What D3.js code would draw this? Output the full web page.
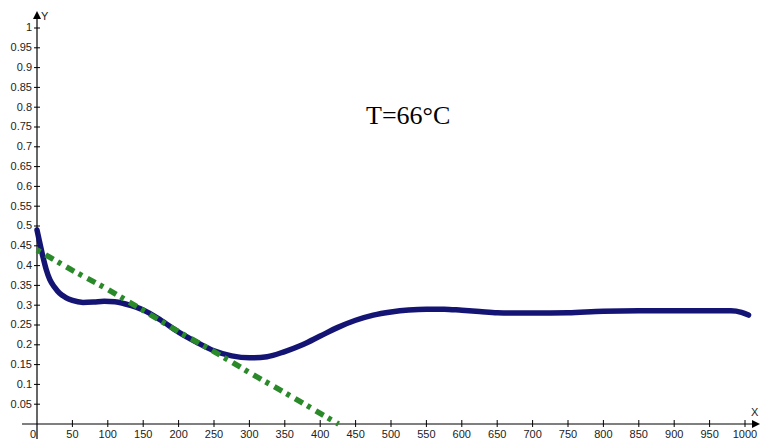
<!DOCTYPE html>
<html>
<head>
    <meta charset="utf-8">
    <title>T=66°C</title>
    <script src="https://d3js.org/d3.v7.min.js"></script>
    <style>
        body { margin: 0; background: #fff; }
        svg { display: block; }
        .tick-label { font-family: "Liberation Sans", Arial, sans-serif; font-size: 11px; fill: #222; }
        .note { font-family: "Liberation Serif", "Times New Roman", serif; font-size: 26px; fill: #000; }
    </style>
</head>
<body>
    <svg width="760" height="439"></svg>
    <script>
        // 蓝色曲线 (x, y)
        const blueX = [0, 3, 8, 13, 18, 25, 32, 40, 50, 65, 80, 95, 110, 125, 140, 150, 175, 200, 225, 250,
            275, 300, 325, 350, 375, 400, 425, 450, 475, 500, 525, 550, 575, 600, 625, 650, 700, 750,
            800, 850, 900, 950, 980, 995, 1005];
        const blueY = [0.49, 0.465, 0.425, 0.39, 0.365, 0.345, 0.33, 0.32, 0.312, 0.307, 0.308, 0.31, 0.309,
            0.303, 0.295, 0.288, 0.262, 0.232, 0.207, 0.185, 0.172, 0.167, 0.17, 0.183, 0.2, 0.222,
            0.244, 0.262, 0.275, 0.283, 0.288, 0.29, 0.29, 0.287, 0.284, 0.281, 0.28, 0.281, 0.285,
            0.286, 0.286, 0.286, 0.286, 0.282, 0.275];

        // 绿色虚线 (x, y)
        const greenX = [0, 50, 100, 150, 200, 250, 300, 350, 400, 426];
        const greenY = [0.44, 0.388, 0.34, 0.287, 0.233, 0.183, 0.13, 0.079, 0.027, 0];

        // 刻度
        const xTicks = d3.range(0, 1001, 50);
        const yTicks = [0.05, 0.1, 0.15, 0.2, 0.25, 0.3, 0.35, 0.4, 0.45, 0.5,
            0.55, 0.6, 0.65, 0.7, 0.75, 0.8, 0.85, 0.9, 0.95, 1];

        const svg = d3.select("svg");
        const x = d3.scaleLinear().domain([0, 1000]).range([37, 745]);
        const y = d3.scaleLinear().domain([0, 1]).range([424, 28]);

        // 坐标轴
        svg.append("line").attr("x1", 22).attr("x2", 755).attr("y1", y(0)).attr("y2", y(0))
            .attr("stroke", "#000").attr("stroke-width", 1.2);
        svg.append("line").attr("x1", x(0)).attr("x2", x(0)).attr("y1", 18).attr("y2", 439)
            .attr("stroke", "#000").attr("stroke-width", 1.2);
        // 箭头
        svg.append("path").attr("d", `M${x(0)},11 L${x(0) - 4},19 L${x(0) + 4},19 Z`).attr("fill", "#000");
        svg.append("path").attr("d", `M760,${y(0)} L752,${y(0) - 4} L752,${y(0) + 4} Z`).attr("fill", "#000");
        svg.append("text").attr("class", "tick-label").attr("x", 41).attr("y", 20).text("Y");
        svg.append("text").attr("class", "tick-label").attr("x", 751).attr("y", 416).text("X");

        // Y 刻度
        const yt = svg.append("g").selectAll("g").data(yTicks).enter().append("g");
        yt.append("line").attr("x1", x(0) - 3).attr("x2", x(0) + 3)
            .attr("y1", d => y(d)).attr("y2", d => y(d)).attr("stroke", "#000");
        yt.append("text").attr("class", "tick-label").attr("text-anchor", "end")
            .attr("dominant-baseline", "middle")
            .attr("x", 32).attr("y", d => y(d) + 0.5).text(d => d3.format("")(d));

        // X 刻度
        const xt = svg.append("g").selectAll("g").data(xTicks).enter().append("g");
        xt.filter(d => d > 0).append("line").attr("x1", d => x(d)).attr("x2", d => x(d))
            .attr("y1", y(0) - 4).attr("y2", y(0) + 3).attr("stroke", "#000");
        xt.append("text").attr("class", "tick-label").attr("text-anchor", "middle")
            .attr("x", d => d === 0 ? x(d) - 4 : x(d)).attr("y", 438).text(d => d);

        // 蓝色曲线
        const bluePts = blueX.map((d, i) => [d, blueY[i]]);
        svg.append("path").datum(bluePts)
            .attr("d", d3.line().curve(d3.curveMonotoneX).x(d => x(d[0])).y(d => y(d[1])))
            .attr("fill", "none").attr("stroke", "#0c0c70").attr("stroke-width", 5.5)
            .attr("stroke-linecap", "round").attr("opacity", 0.97);

        // 绿色虚线 (画在蓝线上面)
        const greenPts = greenX.map((d, i) => [d, greenY[i]]);
        svg.append("path").datum(greenPts)
            .attr("d", d3.line().x(d => x(d[0])).y(d => y(d[1])))
            .attr("fill", "none").attr("stroke", "#2a8a2a").attr("stroke-width", 5.5)
            .attr("stroke-dasharray", "4,6,9,5");

        // 标注
        svg.append("text").attr("class", "note").attr("x", 366).attr("y", 124).text("T=66°C");
    </script>
</body>
</html>
